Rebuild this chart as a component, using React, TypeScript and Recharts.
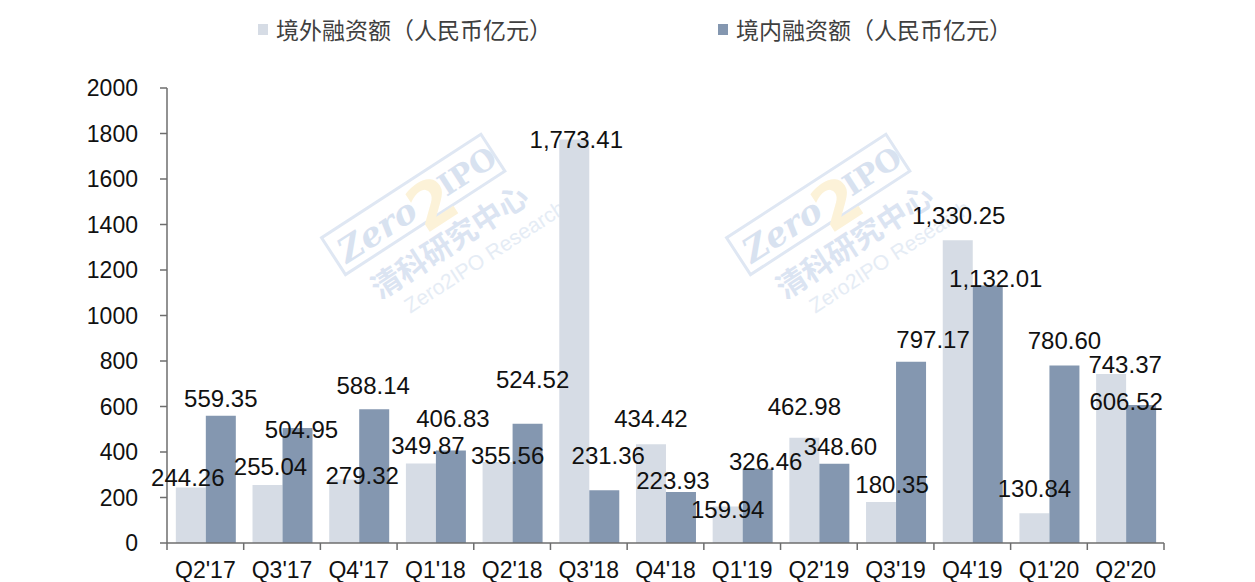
import { BarChart, Bar, XAxis, YAxis, LabelList } from 'recharts';

// quarters on the x axis
const quarters = ["Q2'17", "Q3'17", "Q4'17", "Q1'18", "Q2'18", "Q3'18", "Q4'18", "Q1'19", "Q2'19", "Q3'19", "Q4'19", "Q1'20", "Q2'20"];

// 境外融资额 (亿元)
const overseas = [244.26, 255.04, 279.32, 349.87, 355.56, 1773.41, 434.42, 159.94, 462.98, 180.35, 1330.25, 130.84, 743.37];

// 境内融资额 (亿元)
const domestic = [559.35, 504.95, 588.14, 406.83, 524.52, 231.36, 223.93, 326.46, 348.6, 797.17, 1132.01, 780.6, 606.52];

const yTicks = [0, 200, 400, 600, 800, 1000, 1200, 1400, 1600, 1800, 2000];

// hand-placed label nudges from the original (dx, dy relative to bar top centre)
const overseasNudge: [number, number][] = [
  [-3, -10], [3, -18], [18, -4], [7, -18], [10, -7], [2, 0], [0, -26],
  [0, 3], [0, -31], [11, -17], [1, -25], [0, -25], [14, -9],
];
const domesticNudge: [number, number][] = [
  [0, -17], [4, 1], [-1, -24], [2, -32], [5, -44], [4, -35], [-8, -12],
  [8, -7], [6, -17], [22, -22], [8, -7], [0, -25], [-15, -4],
];

// watermark centres (x); the ones clipped by the page edge are left out
const stampX = [435, 840];

const W = 1255;
const H = 582;
const LEFT = 167;
const RIGHT = 91;
const TOP = 88;
const X_AXIS_H = 39;
const TICK_SIZE = 7;
const TICK_MARGIN = 12;
const BAND = (W - LEFT - RIGHT) / quarters.length;

const LIGHT = '#d6dce5';
const DARK = '#8497b0';
const AXIS = '#6e6e6e';
const FONT = '"Liberation Sans", Arial, sans-serif';

const data = quarters.map((q, i) => ({ q, overseas: overseas[i], domestic: domestic[i] }));

const fmt = (v: number) =>
  v.toLocaleString('en-US', { minimumFractionDigits: 2, maximumFractionDigits: 2 });

function makeLabel(nudge: [number, number][]) {
  return (props: any) => {
    const { x, y, width, value, index } = props;
    const [dx, dy] = nudge[index] || [0, -12];
    return (
      <text
        x={x + width / 2 + dx}
        y={y + dy}
        textAnchor="middle"
        dominantBaseline="central"
        fontFamily={FONT}
        fontSize={24}
        fill="#111"
      >
        {fmt(value)}
      </text>
    );
  };
}

function XTick(props: any) {
  const { x, y, payload, index } = props;
  const axisY = y - TICK_SIZE - TICK_MARGIN;
  const left = x - BAND / 2;
  const last = index === quarters.length - 1;
  return (
    <g>
      <line x1={left} x2={left} y1={axisY} y2={axisY + TICK_SIZE} stroke={AXIS} strokeWidth={1.5} />
      {last && (
        <line x1={x + BAND / 2} x2={x + BAND / 2} y1={axisY} y2={axisY + TICK_SIZE} stroke={AXIS} strokeWidth={1.5} />
      )}
      <text x={x} y={y} dy="0.71em" textAnchor="middle" fontFamily={FONT} fontSize={23} fill="#111">
        {payload.value}
      </text>
    </g>
  );
}

function Stamp({ cx }: { cx: number }) {
  const blue = '#dfe7f3';
  return (
    <g transform={`translate(${cx}, 238) rotate(-33)`}>
      <rect x={-95} y={-62} width={190} height={44} fill="none" stroke={blue} strokeWidth={3} />
      <text x={-88} y={-26} fontSize={34} fontWeight="bold" fontStyle="italic" fill="#d8e2f0" fontFamily="DejaVu Serif">
        Zero
      </text>
      <text x={-6} y={-8} fontSize={64} fontWeight="bold" fill="#fcf2d8" fontFamily="DejaVu Sans">
        2
      </text>
      <text x={32} y={-28} fontSize={30} fontWeight="bold" fill="#d8e2f0" fontFamily="DejaVu Serif">
        IPO
      </text>
      <text x={-80} y={22} fontSize={30} fontWeight="bold" fill="#dbe4f2" fontFamily='"Noto Sans CJK SC"'>
        清科研究中心
      </text>
      <text x={-62} y={50} fontSize={21} fill="#e5ecf5" fontFamily={FONT}>
        Zero2IPO Research
      </text>
    </g>
  );
}

function LegendBox() {
  const item = (color: string, text: string, left: number) => (
    <div style={{ position: 'absolute', left, top: 12, display: 'flex', alignItems: 'center' }}>
      <span style={{ display: 'inline-block', width: 10, height: 11, background: color, marginRight: 8 }} />
      <span style={{ fontFamily: '"Noto Sans CJK SC", sans-serif', fontSize: 23, color: '#404040', lineHeight: '34px' }}>
        {text}
      </span>
    </div>
  );
  return (
    <>
      {item(LIGHT, '境外融资额（人民币亿元）', 258)}
      {item(DARK, '境内融资额（人民币亿元）', 718)}
    </>
  );
}

export default function App() {
  return (
    <div style={{ position: 'absolute', left: 0, top: 0, width: W, height: H, background: '#fff', overflow: 'hidden' }}>
      <svg width={W} height={H} style={{ position: 'absolute', left: 0, top: 0 }}>
        {stampX.map((cx) => (
          <Stamp key={cx} cx={cx} />
        ))}
      </svg>
      <LegendBox />
      <div style={{ position: 'absolute', left: 0, top: 0 }}>
        <BarChart
          width={W}
          height={H}
          data={data}
          margin={{ top: TOP, right: RIGHT, bottom: 0, left: 0 }}
          barCategoryGap="11.5%"
          barGap={0}
        >
          <XAxis
            dataKey="q"
            height={X_AXIS_H}
            axisLine={{ stroke: AXIS, strokeWidth: 1.5 }}
            tickLine={false}
            tickSize={TICK_SIZE}
            tickMargin={TICK_MARGIN}
            tick={<XTick />}
            interval={0}
          />
          <YAxis
            width={LEFT}
            domain={[0, 2000]}
            ticks={yTicks}
            interval={0}
            axisLine={{ stroke: AXIS, strokeWidth: 1.5 }}
            tickLine={{ stroke: AXIS, strokeWidth: 1.5 }}
            tickSize={TICK_SIZE}
            tickMargin={22}
            tick={{ fontFamily: FONT, fontSize: 23, fill: '#111' }}
          />
          <Bar dataKey="overseas" fill={LIGHT} isAnimationActive={false}>
            <LabelList dataKey="overseas" content={makeLabel(overseasNudge)} />
          </Bar>
          <Bar dataKey="domestic" fill={DARK} isAnimationActive={false}>
            <LabelList dataKey="domestic" content={makeLabel(domesticNudge)} />
          </Bar>
        </BarChart>
      </div>
    </div>
  );
}
